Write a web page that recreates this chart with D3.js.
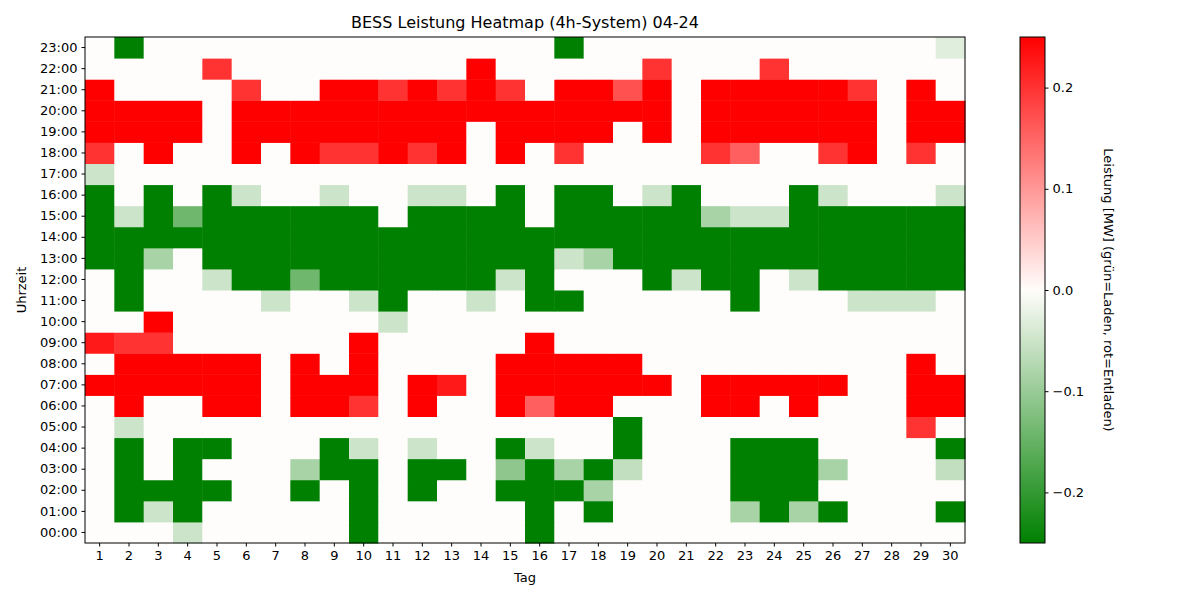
<!DOCTYPE html>
<html>
<head>
<meta charset="utf-8">
<script src="https://cdn.jsdelivr.net/npm/d3@7"></script>
<style>
  body { margin: 0; background: #fff; font-family: "DejaVu Sans", sans-serif; }
  text { font-family: "DejaVu Sans", sans-serif; }
</style>
</head>
<body>
<div id="chart"></div>
<script>
// days and hours
const days = d3.range(1, 31)
const hours = d3.range(0, 24).map(h => String(h).padStart(2, "0") + ":00")
const cbTicks = [-0.2, -0.1, 0, 0.1, 0.2]

// power per hour (rows 00:00 .. 23:00), one value per day 1..30
const h00 = [0,0,0,-0.05,0,0,0,0,0,-0.25,0,0,0,0,0,-0.25,0,0,0,0,0,0,0,0,0,0,0,0,0,0]
const h01 = [0,-0.25,-0.05,-0.25,0,0,0,0,0,-0.25,0,0,0,0,0,-0.25,0,-0.25,0,0,0,0,-0.085,-0.25,-0.085,-0.25,0,0,0,-0.25]
const h02 = [0,-0.25,-0.25,-0.25,-0.25,0,0,-0.25,0,-0.25,0,-0.25,0,0,-0.25,-0.25,-0.25,-0.085,0,0,0,0,-0.25,-0.25,-0.25,0,0,0,0,0]
const h03 = [0,-0.25,0,-0.25,0,0,0,-0.085,-0.25,-0.25,0,-0.25,-0.25,0,-0.11,-0.25,-0.085,-0.25,-0.06,0,0,0,-0.25,-0.25,-0.25,-0.085,0,0,0,-0.06]
const h04 = [0,-0.25,0,-0.25,-0.25,0,0,0,-0.25,-0.05,0,-0.05,0,0,-0.25,-0.05,0,0,-0.25,0,0,0,-0.25,-0.25,-0.25,0,0,0,0,-0.25]
const h05 = [0,-0.05,0,0,0,0,0,0,0,0,0,0,0,0,0,0,0,0,-0.25,0,0,0,0,0,0,0,0,0,0.2,0]
const h06 = [0,0.25,0,0,0.25,0.25,0,0.25,0.25,0.2,0,0.25,0,0,0.25,0.155,0.25,0.25,0,0,0,0.25,0.25,0,0.25,0,0,0,0.25,0.25]
const h07 = [0.25,0.25,0.25,0.25,0.25,0.25,0,0.25,0.25,0.25,0,0.25,0.225,0,0.25,0.25,0.25,0.25,0.25,0.25,0,0.25,0.25,0.25,0.25,0.25,0,0,0.25,0.25]
const h08 = [0,0.25,0.25,0.25,0.25,0.25,0,0.25,0,0.25,0,0,0,0,0.25,0.25,0.25,0.25,0.25,0,0,0,0,0,0,0,0,0,0.25,0]
const h09 = [0.225,0.2,0.2,0,0,0,0,0,0,0.25,0,0,0,0,0,0.25,0,0,0,0,0,0,0,0,0,0,0,0,0,0]
const h10 = [0,0,0.25,0,0,0,0,0,0,0,-0.05,0,0,0,0,0,0,0,0,0,0,0,0,0,0,0,0,0,0,0]
const h11 = [0,-0.25,0,0,0,0,-0.05,0,0,-0.05,-0.25,0,0,-0.05,0,-0.25,-0.25,0,0,0,0,0,-0.25,0,0,0,-0.05,-0.05,-0.05,0]
const h12 = [0,-0.25,0,0,-0.05,-0.25,-0.25,-0.14,-0.25,-0.25,-0.25,-0.25,-0.25,-0.25,-0.05,-0.25,0,0,0,-0.25,-0.05,-0.25,-0.25,0,-0.05,-0.25,-0.25,-0.25,-0.25,-0.25]
const h13 = [-0.25,-0.25,-0.085,0,-0.25,-0.25,-0.25,-0.25,-0.25,-0.25,-0.25,-0.25,-0.25,-0.25,-0.25,-0.25,-0.05,-0.085,-0.25,-0.25,-0.25,-0.25,-0.25,-0.25,-0.25,-0.25,-0.25,-0.25,-0.25,-0.25]
const h14 = days.map(() => -0.25)
const h15 = [-0.25,-0.05,-0.25,-0.14,-0.25,-0.25,-0.25,-0.25,-0.25,-0.25,0,-0.25,-0.25,-0.25,-0.25,0,-0.25,-0.25,-0.25,-0.25,-0.25,-0.085,-0.05,-0.05,-0.25,-0.25,-0.25,-0.25,-0.25,-0.25]
const h16 = [-0.25,0,-0.25,0,-0.25,-0.05,0,0,-0.05,0,0,-0.05,-0.05,0,-0.25,0,-0.25,-0.25,0,-0.05,-0.25,0,0,0,-0.25,-0.05,0,0,0,-0.05]
const h17 = [-0.05,0,0,0,0,0,0,0,0,0,0,0,0,0,0,0,0,0,0,0,0,0,0,0,0,0,0,0,0,0]
const h18 = [0.2,0,0.25,0,0,0.25,0,0.25,0.2,0.2,0.25,0.2,0.25,0,0.25,0,0.2,0,0,0,0,0.2,0.155,0,0,0.2,0.25,0,0.2,0]
const h19 = [0.25,0.25,0.25,0.25,0,0.25,0.25,0.25,0.25,0.25,0.25,0.25,0.25,0,0.25,0.25,0.25,0.25,0,0.25,0,0.25,0.25,0.25,0.25,0.25,0.25,0,0.25,0.25]
const h20 = [0.25,0.25,0.25,0.25,0,0.25,0.25,0.25,0.25,0.25,0.25,0.25,0.25,0.25,0.25,0.25,0.25,0.25,0.25,0.25,0,0.25,0.25,0.25,0.25,0.25,0.25,0,0.25,0.25]
const h21 = [0.25,0,0,0,0,0.2,0,0,0.25,0.25,0.2,0.25,0.2,0.25,0.2,0,0.25,0.25,0.17,0.25,0,0.25,0.25,0.25,0.25,0.25,0.2,0,0.25,0]
const h22 = [0,0,0,0,0.2,0,0,0,0,0,0,0,0,0.25,0,0,0,0,0,0.2,0,0,0,0.2,0,0,0,0,0,0]
const h23 = [0,-0.25,0,0,0,0,0,0,0,0,0,0,0,0,0,0,-0.25,0,0,0,0,0,0,0,0,0,0,0,0,-0.03]

const rows = [h00,h01,h02,h03,h04,h05,h06,h07,h08,h09,h10,h11,h12,h13,h14,h15,h16,h17,h18,h19,h20,h21,h22,h23]

const width = 1200
const height = 600
const plot = { left: 85, right: 965, top: 37, bottom: 543 }

const svg = d3.select("#chart").append("svg")
  .attr("width", width)
  .attr("height", height)

const color = d3.scaleLinear()
  .domain([-0.25, 0, 0.25])
  .range(["#008000", "#fffdfb", "#ff0000"])
  .clamp(true)

const xScale = d3.scaleBand().domain(days).range([plot.left, plot.right])
const yScale = d3.scaleBand().domain(hours).range([plot.bottom, plot.top])

// cells
const cells = []
rows.forEach((r, hi) => r.forEach((v, di) => cells.push({ day: days[di], hour: hours[hi], v: v })))

svg.append("g").selectAll("rect").data(cells).enter()
  .append("rect")
  .attr("x", d => xScale(d.day))
  .attr("y", d => yScale(d.hour))
  .attr("width", xScale.bandwidth() + 0.5)
  .attr("height", yScale.bandwidth() + 0.5)
  .attr("fill", d => color(d.v))

svg.append("rect")
  .attr("x", plot.left).attr("y", plot.top)
  .attr("width", plot.right - plot.left).attr("height", plot.bottom - plot.top)
  .attr("fill", "none").attr("stroke", "#000").attr("stroke-width", 1)

// axes
const xAxis = svg.append("g")
  .attr("transform", "translate(0," + plot.bottom + ")")
  .call(d3.axisBottom(xScale).tickSizeOuter(0).tickSize(3.5).tickPadding(4))
const yAxis = svg.append("g")
  .attr("transform", "translate(" + plot.left + ",0)")
  .call(d3.axisLeft(yScale).tickSizeOuter(0).tickSize(3.5).tickPadding(4))
;[xAxis, yAxis].forEach(a => {
  a.select(".domain").remove()
  a.selectAll("text").attr("font-size", 13).attr("fill", "#000").attr("font-family", "DejaVu Sans")
})

svg.append("text")
  .attr("x", (plot.left + plot.right) / 2).attr("y", 28)
  .attr("text-anchor", "middle").attr("font-size", 16)
  .text("BESS Leistung Heatmap (4h-System) 04-24")

svg.append("text")
  .attr("x", (plot.left + plot.right) / 2).attr("y", 582)
  .attr("text-anchor", "middle").attr("font-size", 13)
  .text("Tag")

svg.append("text")
  .attr("transform", "translate(26," + ((plot.top + plot.bottom) / 2) + ")rotate(-90)")
  .attr("text-anchor", "middle").attr("font-size", 13)
  .text("Uhrzeit")

// colorbar
const cb = { x: 1020, w: 25 }
const cbScale = d3.scaleLinear().domain([-0.25, 0.25]).range([plot.bottom, plot.top])
const defs = svg.append("defs")
const grad = defs.append("linearGradient").attr("id", "cbgrad")
  .attr("x1", 0).attr("y1", 1).attr("x2", 0).attr("y2", 0)
grad.selectAll("stop").data([-0.25, 0, 0.25]).enter().append("stop")
  .attr("offset", d => (d + 0.25) / 0.5)
  .attr("stop-color", d => color(d))
svg.append("rect")
  .attr("x", cb.x).attr("y", plot.top)
  .attr("width", cb.w).attr("height", plot.bottom - plot.top)
  .attr("fill", "url(#cbgrad)").attr("stroke", "#000").attr("stroke-width", 1)

const cbAxis = svg.append("g")
  .attr("transform", "translate(" + (cb.x + cb.w) + ",0)")
  .call(d3.axisRight(cbScale).tickValues(cbTicks).tickSize(3.5).tickPadding(4)
    .tickFormat(d => d === 0 ? "0.0" : d3.format(".1f")(d).replace("-", "\u2212")))
cbAxis.select(".domain").remove()
cbAxis.selectAll("text").attr("font-size", 13).attr("fill", "#000")

svg.append("text")
  .attr("transform", "translate(1104," + ((plot.top + plot.bottom) / 2) + ")rotate(90)")
  .attr("text-anchor", "middle").attr("font-size", 13)
  .text("Leistung [MW] (grün=Laden, rot=Entladen)")
</script>
</body>
</html>
